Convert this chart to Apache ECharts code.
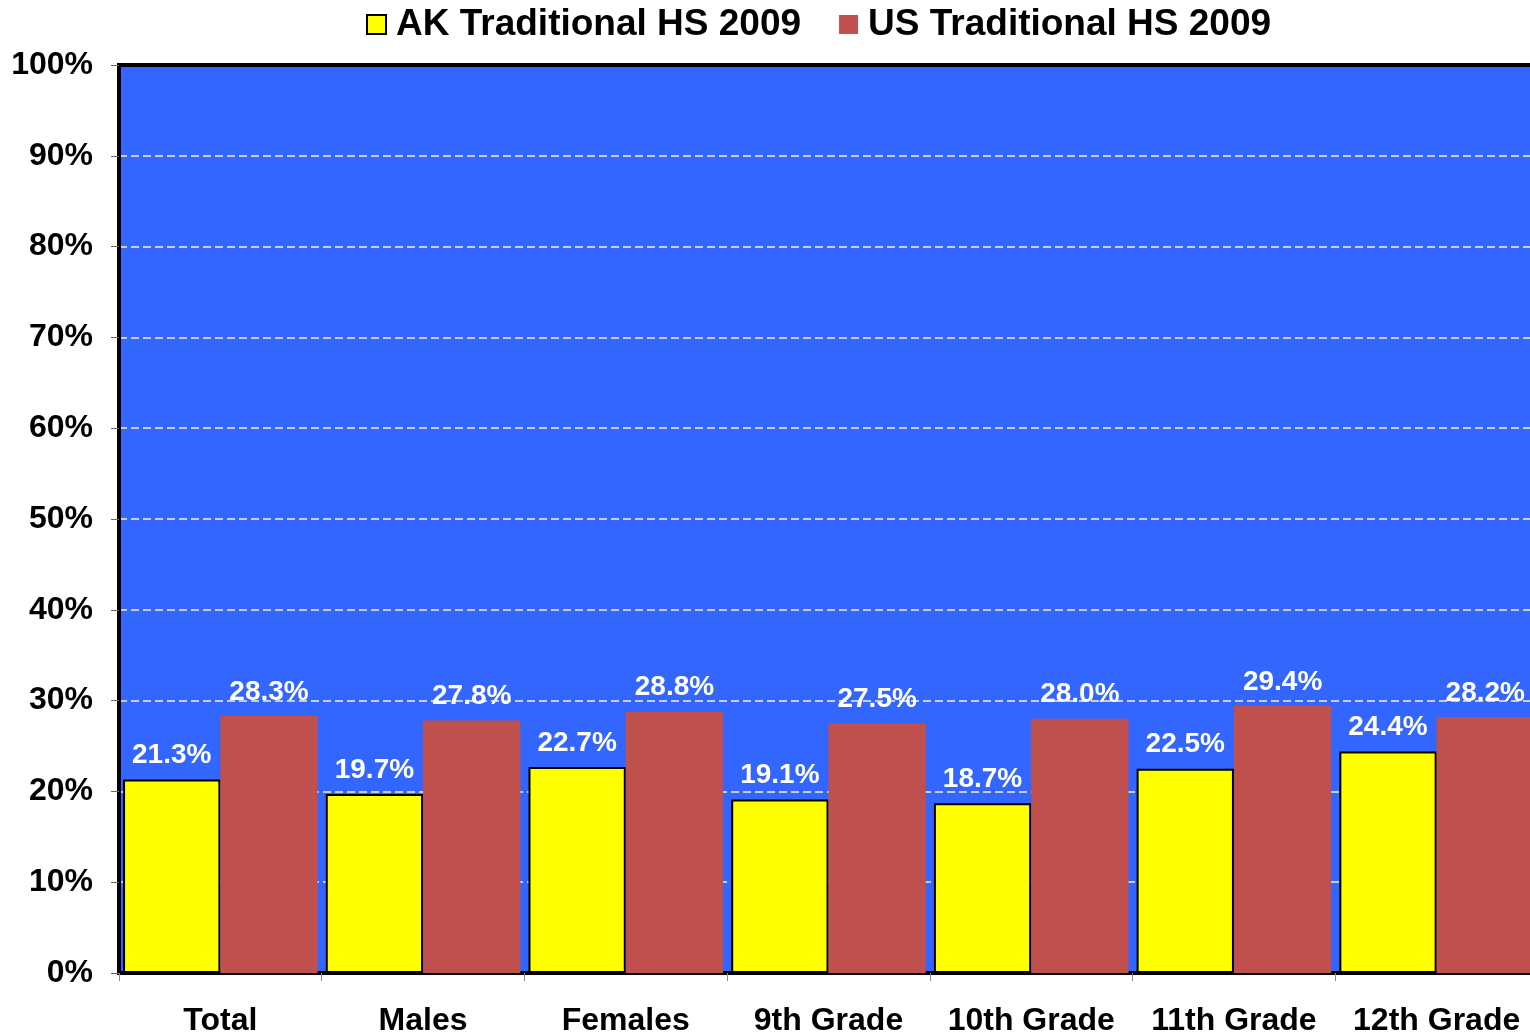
<!DOCTYPE html>
<html>
<head>
<meta charset="utf-8">
<script src="https://cdn.jsdelivr.net/npm/echarts@6/dist/echarts.min.js"></script>
<style>
	html, body { margin: 0; padding: 0; background: #fff; }
	#chart { width: 1530px; height: 1033px; }
</style>
</head>
<body>
<div id="chart"></div>
<script>
	// categories and values
	var categories = ['Total', 'Males', 'Females', '9th Grade', '10th Grade', '11th Grade', '12th Grade'];
	var akValues = [21.3, 19.7, 22.7, 19.1, 18.7, 22.5, 24.4];
	var usValues = [28.3, 27.8, 28.8, 27.5, 28.0, 29.4, 28.2];
	var seriesNames = ['AK Traditional HS 2009', 'US Traditional HS 2009'];

	var font = '"Liberation Sans", Arial, sans-serif';

	var myChart = echarts.init(document.getElementById('chart'));

	var labelStyle = {
		show: true,
		position: 'top',
		distance: 10,
		color: '#fff',
		fontFamily: font,
		fontWeight: 'bold',
		fontSize: 28,
		formatter: function (p) {
			return p.value.toFixed(1) + '%';
		}
	};

	const option = {
		animation: false,
		legend: {
			top: 1,
			left: 361,
			icon: 'rect',
			itemWidth: 19,
			itemHeight: 19,
			itemGap: 38,
			textStyle: {
				fontFamily: font,
				fontWeight: 'bold',
				fontSize: 37,
				color: '#000',
				padding: [0, 0, 0, 5]
			},
			data: seriesNames
		},
		grid: {
			left: 119,
			top: 65,
			right: -8,
			bottom: 60,
			outerBoundsMode: 'none',
			containLabel: false,
			show: true,
			backgroundColor: '#3366FF',
			borderColor: '#000',
			borderWidth: 4
		},
		xAxis: {
			type: 'category',
			data: categories,
			axisLine: { lineStyle: { color: '#000', width: 3 } },
			axisTick: { show: true, interval: 0, length: 8, lineStyle: { color: '#888' } },
			axisLabel: {
				interval: 0,
				margin: 32,
				color: '#000',
				fontFamily: font,
				fontWeight: 'bold',
				fontSize: 32,
				hideOverlap: false
			}
		},
		yAxis: {
			type: 'value',
			min: 0,
			max: 100,
			interval: 10,
			axisLine: { show: true, lineStyle: { color: '#000', width: 4 } },
			axisTick: { show: true, length: 8, lineStyle: { color: '#666' } },
			axisLabel: {
				margin: 26,
				color: '#000',
				fontFamily: font,
				fontWeight: 'bold',
				fontSize: 32,
				formatter: '{value}%'
			},
			splitLine: { showMaxLine: false, lineStyle: { color: '#ccc', type: 'dashed', width: 2 } }
		},
		series: [{
				name: seriesNames[0],
				type: 'bar',
				data: akValues,
				barGap: '0%',
				barCategoryGap: '4%',
				itemStyle: { color: '#FFFF00', borderColor: '#000', borderWidth: 2 },
				label: labelStyle
			},
			{
				name: seriesNames[1],
				type: 'bar',
				data: usValues,
				itemStyle: { color: '#C0504D' },
				label: labelStyle
			}
		]
	};
	myChart.setOption(option);
</script>
</body>
</html>
